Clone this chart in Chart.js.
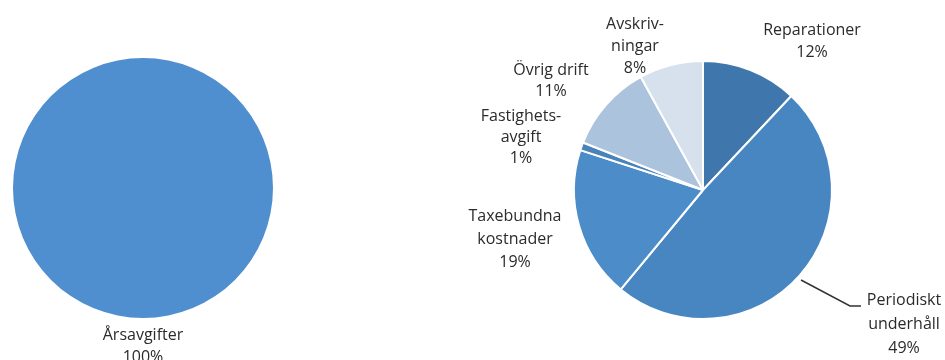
<!DOCTYPE html>
<html>
<head>
<meta charset="utf-8">
<script src="https://cdn.jsdelivr.net/npm/chart.js@4/dist/chart.umd.min.js"></script>
<style>
  html, body { margin: 0; padding: 0; background: #ffffff; }
  #wrap { position: relative; width: 945px; height: 360px; overflow: hidden; }
  canvas { position: absolute; top: 0; }
  #c1 { left: 0; }
  #c2 { left: 430px; }
</style>
</head>
<body>
<div id="wrap">
  <canvas id="c1" width="300" height="360"></canvas>
  <canvas id="c2" width="515" height="360"></canvas>
</div>
<script>
// ---- data ----
const incomeCategories = ["Årsavgifter"];
const incomeValues = [100];

const costCategories = ["Reparationer", "Periodiskt underhåll", "Taxebundna kostnader", "Fastighetsavgift", "Övrig drift", "Avskrivningar"];
const costValues = [12, 49, 19, 1, 11, 8];
// label text lines as printed in the chart
const costLabelLines = [
  ["Reparationer", "12%"],
  ["Periodiskt", "underhåll", "49%"],
  ["Taxebundna", "kostnader", "19%"],
  ["Fastighets-", "avgift", "1%"],
  ["Övrig drift", "11%"],
  ["Avskriv-", "ningar", "8%"]
];
const incomeLabelLines = [["Årsavgifter", "100%"]];

// ---- styling / layout ----
const costColors = ["#3f77ad", "#4886c2", "#4c8cc9", "#4a82ba", "#abc3dc", "#d6e1ed"];
const incomeColors = ["#4f8fcf"];
const FONT = '16px "Open Sans", "DejaVu Sans", sans-serif';
const TEXT_COLOR = "#2b2b2b";

// label anchor (centre x, first line centre y) in canvas pixels, plus line height
const costLabelPos = [
  {x: 382, y: 30, lh: 22},
  {x: 474, y: 300, lh: 24},
  {x: 85, y: 216, lh: 23},
  {x: 91, y: 116, lh: 21},
  {x: 121, y: 70, lh: 21},
  {x: 205, y: 24, lh: 22}
];
const incomeLabelPos = [{x: 143, y: 335, lh: 22}];
// leader line for "Periodiskt underhåll" (canvas pixels)
const leader = [[371, 280], [420, 306], [431, 306]];

function labelPlugin(lines, pos, leaderPts) {
  return {
    id: 'labels',
    afterDraw(chart) {
      const ctx = chart.ctx;
      ctx.save();
      if (leaderPts) {
        ctx.strokeStyle = "#333333";
        ctx.lineWidth = 1.5;
        ctx.beginPath();
        ctx.moveTo(leaderPts[0][0], leaderPts[0][1]);
        for (let i = 1; i < leaderPts.length; i++) ctx.lineTo(leaderPts[i][0], leaderPts[i][1]);
        ctx.stroke();
      }
      ctx.font = FONT;
      ctx.fillStyle = TEXT_COLOR;
      ctx.textAlign = "center";
      ctx.textBaseline = "middle";
      lines.forEach((ls, i) => {
        const p = pos[i];
        ls.forEach((t, j) => ctx.fillText(t, p.x, p.y + j * p.lh));
      });
      ctx.restore();
    }
  };
}

const commonOpts = {
  responsive: false,
  animation: false,
  events: [],
  plugins: { legend: { display: false }, tooltip: { enabled: false } }
};

new Chart(document.getElementById("c1"), {
  type: "pie",
  data: {
    labels: incomeCategories,
    datasets: [{ data: incomeValues, backgroundColor: incomeColors, borderWidth: 0, hoverOffset: 0 }]
  },
  options: Object.assign({}, commonOpts, {
    radius: 130,
    layout: { padding: { left: 0, right: 14, top: 16, bottom: 0 } }
  }),
  plugins: [labelPlugin(incomeLabelLines, incomeLabelPos, null)]
});

new Chart(document.getElementById("c2"), {
  type: "pie",
  data: {
    labels: costCategories,
    datasets: [{ data: costValues, backgroundColor: costColors, borderColor: "#ffffff", borderWidth: 2, hoverOffset: 0 }]
  },
  options: Object.assign({}, commonOpts, {
    radius: 129,
    layout: { padding: { left: 31, right: 0, top: 20, bottom: 0 } }
  }),
  plugins: [labelPlugin(costLabelLines, costLabelPos, leader)]
});
</script>
</body>
</html>
